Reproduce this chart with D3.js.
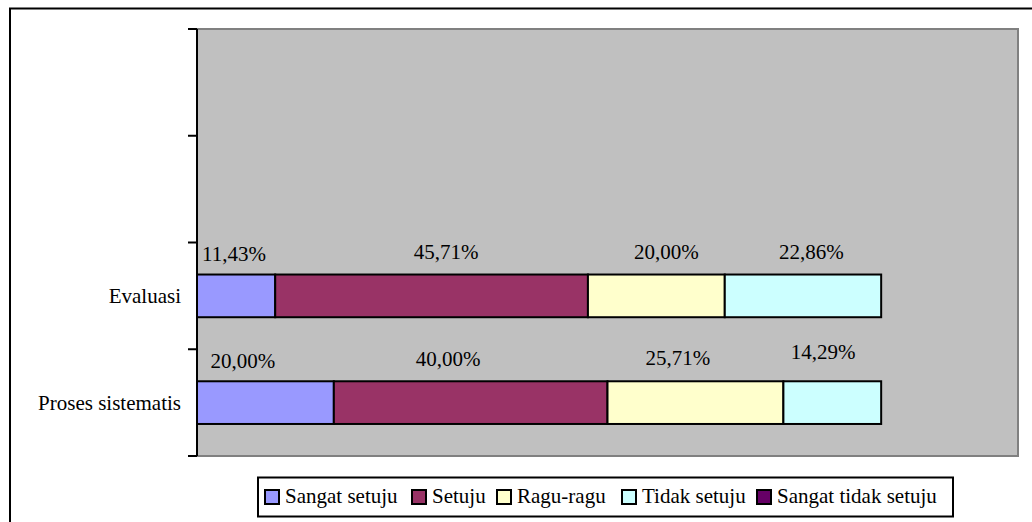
<!DOCTYPE html>
<html><head><meta charset="utf-8">
<script src="https://cdn.jsdelivr.net/npm/d3@7"></script>
<style>body{margin:0;background:#fff}svg{display:block}text{font-family:"Liberation Serif","Times New Roman",Times,serif}</style>
</head><body>
<svg id="c" width="1032" height="522"></svg>
<script>
const categories = ["Evaluasi", "Proses sistematis"];
const seriesNames = ["Sangat setuju", "Setuju", "Ragu-ragu", "Tidak setuju", "Sangat tidak setuju"];
const seriesColors = ["#9999FF", "#993366", "#FFFFCC", "#CCFFFF", "#660066"];
const evaluasiValues = [11.43, 45.71, 20.00, 22.86, 0];
const prosesValues = [20.00, 40.00, 25.71, 14.29, 0];
const valueLabels = [["11,43%", "45,71%", "20,00%", "22,86%"], ["20,00%", "40,00%", "25,71%", "14,29%"]];
// label anchors (value units) and lift above bar, as placed in the original
const labelAt = [[5.4, 36.4, 68.6, 89.8], [6.7, 36.7, 70.3, 91.5]];
const labelLift = [[14, 16, 16, 16], [13, 15, 16, 22]];
const xMax = 120;

const values = [evaluasiValues, prosesValues];
const svg = d3.select("#c");
const fs = "21px";

// outer border
svg.append("rect").attr("x", 10).attr("y", 8.5).attr("width", 1040).attr("height", 540)
  .attr("fill", "none").attr("stroke", "#000").attr("stroke-width", 2);

const x = d3.scaleLinear().domain([0, xMax]).range([197, 1018]);
const y = d3.scaleBand().domain(["_e1", "_e2", ...categories]).range([29, 456])
  .paddingInner(0.6).paddingOuter(0.3);

// plot area
svg.append("rect").attr("x", x(0)).attr("y", 29).attr("width", x(xMax) - x(0)).attr("height", 456 - 29)
  .attr("fill", "#C0C0C0").attr("stroke", "#808080").attr("stroke-width", 2);

// bars
categories.forEach((cat, ci) => {
  let acc = 0;
  const g = svg.append("g");
  values[ci].forEach((v, si) => {
    if (v > 0) {
      g.append("rect").attr("x", x(acc)).attr("y", y(cat)).attr("width", x(acc + v) - x(acc))
        .attr("height", y.bandwidth()).attr("fill", seriesColors[si]).attr("stroke", "#000").attr("stroke-width", 2);
    }
    acc += v;
  });
  valueLabels[ci].forEach((t, li) => {
    svg.append("text").attr("x", x(labelAt[ci][li])).attr("y", y(cat) - labelLift[ci][li])
      .attr("text-anchor", "middle").style("font-size", fs).attr("fill", "#000").text(t);
  });
  svg.append("text").attr("x", 181).attr("y", y(cat) + y.bandwidth() / 2 + 7)
    .attr("text-anchor", "end").style("font-size", fs).attr("fill", "#000").text(cat);
});

// y axis
const r = y.range();
svg.append("line").attr("x1", 197).attr("x2", 197).attr("y1", r[0]).attr("y2", r[1]).attr("stroke", "#000").attr("stroke-width", 2);
d3.range(y.domain().length + 1).forEach(i => {
  const ty = r[0] + i * y.step();
  svg.append("line").attr("x1", 188).attr("x2", 197).attr("y1", ty).attr("y2", ty).attr("stroke", "#000").attr("stroke-width", 2);
});

// legend
const lg = svg.append("g");
lg.append("rect").attr("x", 258).attr("y", 477.5).attr("width", 695).attr("height", 39)
  .attr("fill", "#fff").attr("stroke", "#000").attr("stroke-width", 2);
const legendX = [265, 412, 497, 622, 757];
seriesNames.forEach((n, i) => {
  lg.append("rect").attr("x", legendX[i]).attr("y", 490).attr("width", 14).attr("height", 14)
    .attr("fill", seriesColors[i]).attr("stroke", "#000").attr("stroke-width", 2);
  lg.append("text").attr("x", legendX[i] + 20).attr("y", 503).style("font-size", fs)
    .attr("fill", "#000").text(n);
});
</script>
</body></html>
